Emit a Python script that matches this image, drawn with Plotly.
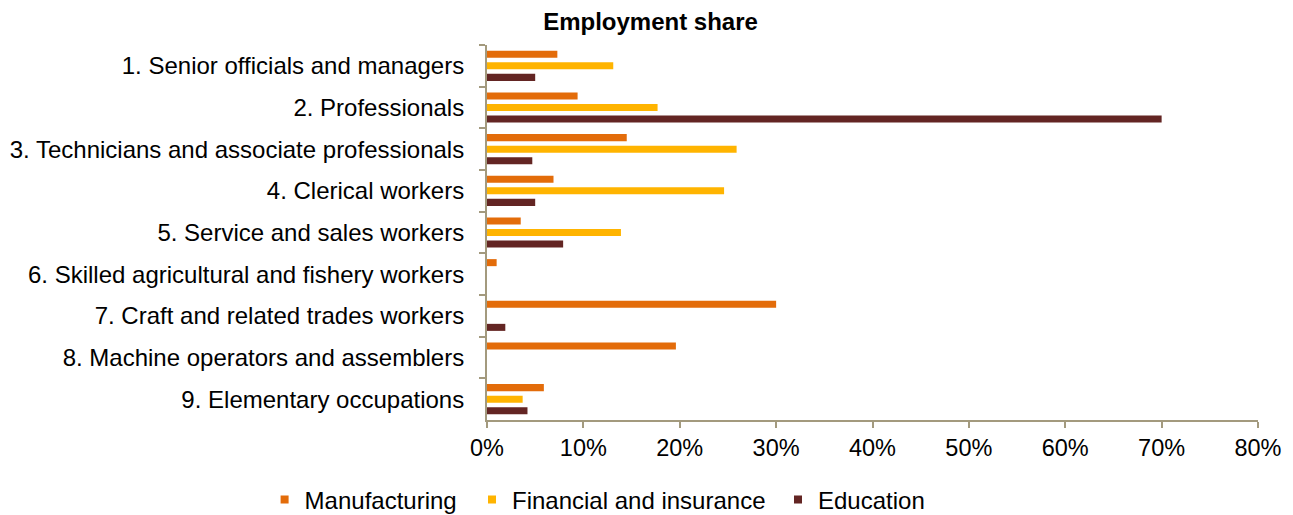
import plotly.graph_objects as go

categories = [
    "1. Senior officials and managers",
    "2. Professionals",
    "3. Technicians and associate professionals",
    "4. Clerical workers",
    "5. Service and sales workers",
    "6. Skilled agricultural and fishery workers",
    "7. Craft and related trades workers",
    "8. Machine operators and assemblers",
    "9. Elementary occupations",
]
manufacturing = [7.3, 9.4, 14.5, 6.9, 3.5, 1.0, 30.0, 19.6, 5.9]
financial = [13.1, 17.7, 25.9, 24.6, 13.9, 0.0, 0.0, 0.0, 3.7]
education = [5.0, 70.0, 4.7, 5.0, 7.9, 0.0, 1.9, 0.0, 4.2]

series = [
    ("Manufacturing", manufacturing, "#E36C0A"),
    ("Financial and insurance", financial, "#FFB400"),
    ("Education", education, "#632523"),
]

FONT = "Liberation Sans, Arial, sans-serif"
AXIS_COLOR = "#A39A7E"
W, H = 1285, 507
legend_left_px = [256.6, 464, 770]
legend_ids = ["legend", "legend2", "legend3"]

fig = go.Figure()
for name, vals, color in series:
    fig.add_trace(go.Bar(
        y=categories, x=[v / 100 for v in vals], name=name, orientation="h",
        marker=dict(color=color, line=dict(width=0)), showlegend=False,
    ))
for (name, vals, color), lid in zip(series, legend_ids):
    fig.add_trace(go.Scatter(
        x=[None], y=[None], mode="markers", name=name, legend=lid,
        marker=dict(symbol="square", size=8, color=color),
    ))

legend_common = dict(orientation="h", xref="container", xanchor="left",
                     y=1 - 492 / H, yref="container", yanchor="middle",
                     bgcolor="rgba(0,0,0,0)",
                     font=dict(family=FONT, size=24, color="black"))

fig.update_layout(
    width=W, height=H,
    margin=dict(l=479, r=35, t=37, b=95),
    paper_bgcolor="white", plot_bgcolor="white",
    barmode="group", bargap=0.17, bargroupgap=0.39,
    font=dict(family=FONT, size=24, color="black"),
    title=dict(text="<b>Employment share</b>", x=0.5, xref="container",
               y=1 - 14 / H, yref="container", xanchor="center", yanchor="middle",
               font=dict(family=FONT, size=24, color="black")),
    legend=dict(x=legend_left_px[0] / W, **legend_common),
    legend2=dict(x=legend_left_px[1] / W, **legend_common),
    legend3=dict(x=legend_left_px[2] / W, **legend_common),
)
fig.update_xaxes(
    range=[0, 0.8], dtick=0.1, tickformat=".0%", showgrid=False, zeroline=False,
    showline=True, linecolor=AXIS_COLOR, linewidth=2,
    ticks="outside", ticklen=6, tickcolor=AXIS_COLOR, tickwidth=2,
    tickfont=dict(family=FONT, size=23.5, color="black"), automargin=False,
)
fig.update_yaxes(
    autorange="reversed", showgrid=False, zeroline=False,
    showline=True, linecolor=AXIS_COLOR, linewidth=2,
    ticks="outside", ticklen=6, tickcolor=AXIS_COLOR, tickwidth=2,
    tickson="boundaries", ticklabelstandoff=16, automargin=False,
    tickfont=dict(family=FONT, size=24, color="black"),
)

fig.write_html("out.html")
